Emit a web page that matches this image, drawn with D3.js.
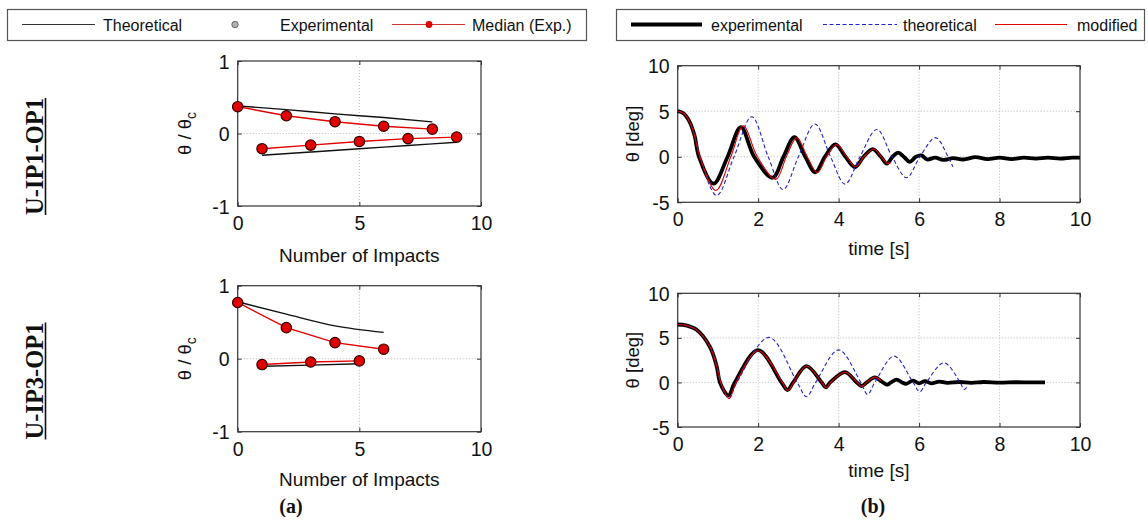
<!DOCTYPE html>
<html>
<head>
<meta charset="utf-8">
<script src="https://cdn.jsdelivr.net/npm/d3@7"></script>
<style>
  body { margin: 0; background: #fff; }
  svg { display: block; }
  text { font-family: "Liberation Sans", Arial, Helvetica, sans-serif; fill: #111; }
</style>
</head>
<body>
<svg id="fig" width="1148" height="524"></svg>
<script>
// ---------- Panel (a): normalised rotation amplitude per impact ----------
const impactTicks = [0, 5, 10];
const ratioTicks = [-1, 0, 1];

// U-IP1-OP1
const ip1UpperImpacts = [0, 2, 4, 6, 8];
const ip1UpperMedian  = [0.37, 0.245, 0.163, 0.10, 0.06];
const ip1UpperTheory  = [0.38, 0.33, 0.27, 0.22, 0.16];
const ip1LowerImpacts = [1, 3, 5, 7, 9];
const ip1LowerMedian  = [-0.21, -0.16, -0.11, -0.07, -0.05];
const ip1LowerTheory  = [-0.30, -0.255, -0.21, -0.165, -0.12];

// U-IP3-OP1
const ip3UpperImpacts = [0, 2, 4, 6];
const ip3UpperMedian  = [0.77, 0.425, 0.22, 0.13];
const ip3UpperTheory  = [0.78, 0.61, 0.45, 0.36];
const ip3LowerImpacts = [1, 3, 5];
const ip3LowerMedian  = [-0.08, -0.045, -0.03];
const ip3LowerTheory  = [-0.105, -0.088, -0.07];

// ---------- Panel (b): rotation time histories ----------
const timeTicks = [0, 2, 4, 6, 8, 10];
const angleTicks = [-5, 0, 5, 10];

// U-IP1-OP1
const ip1ExpTime = [0, 0.15, 0.3, 0.42, 0.53, 0.89, 1.24, 1.57, 1.9, 2.36, 2.63, 2.9, 3.17, 3.42, 3.66, 3.92, 4.17, 4.41, 4.62, 4.85, 5.05, 5.2, 5.34, 5.48, 5.62, 5.77, 5.92, 6.06, 6.2, 6.4, 6.6, 6.85, 7.1, 7.4, 7.7, 8.0, 8.3, 8.6, 8.9, 9.2, 9.5, 9.8, 10];
const ip1ExpDeg  = [5.0, 4.75, 3.8, 2.3, 0, -2.95, 0, 3.25, 0, -2.3, 0, 2.15, 0, -1.7, 0, 1.35, 0, -1.15, 0, 0.85, 0, -0.75, 0, 0.45, 0, -0.55, 0, 0.15, -0.3, -0.1, -0.35, -0.15, -0.3, -0.05, -0.25, -0.1, -0.25, -0.1, -0.2, -0.1, -0.2, -0.1, -0.1];
const ip1TheoTime = [0, 0.15, 0.3, 0.42, 0.55, 0.97, 1.4, 1.84, 2.25, 2.62, 3.0, 3.41, 3.8, 4.16, 4.53, 4.95, 5.33, 5.69, 6.02, 6.41, 6.72, 6.84];
const ip1TheoDeg  = [5.0, 4.75, 3.8, 2.3, 0, -4.25, 0, 4.4, 0, -3.6, 0, 3.6, 0, -3.0, 0, 3.0, 0, -2.3, 0, 2.1, 0, -1.1];
const ip1ModTime = [0, 0.15, 0.3, 0.42, 0.55, 0.95, 1.32, 1.63, 1.98, 2.44, 2.7, 2.96, 3.22, 3.47, 3.7, 3.95, 4.2, 4.42, 4.63, 4.87, 5.06, 5.22, 5.3];
const ip1ModDeg  = [5.0, 4.75, 3.8, 2.3, 0, -3.7, 0, 3.4, 0, -2.5, 0, 2.1, 0, -1.75, 0, 1.35, 0, -1.1, 0, 0.85, 0, -0.75, -0.6];

// U-IP3-OP1
const ip3ExpTime = [0, 0.2, 0.47, 0.8, 0.97, 1.05, 1.26, 1.42, 2.0, 2.58, 2.73, 2.87, 3.2, 3.58, 3.68, 3.79, 4.16, 4.45, 4.57, 4.7, 4.9, 5.1, 5.21, 5.3, 5.44, 5.58, 5.68, 5.85, 6.0, 6.15, 6.3, 6.5, 6.7, 7.0, 7.3, 7.6, 8.0, 8.4, 8.8, 9.13];
const ip3ExpDeg  = [6.5, 6.4, 5.9, 4.0, 1.8, 0, -1.45, 0, 3.63, 0, -0.85, 0, 1.83, 0, -0.55, 0, 1.16, 0, -0.4, 0, 0.56, 0, -0.25, 0, 0.32, 0, -0.15, 0.2, -0.1, 0.15, -0.1, 0.1, -0.05, 0.05, -0.05, 0.05, -0.02, 0.02, 0, 0];
const ip3TheoTime = [0, 0.2, 0.47, 0.8, 0.97, 1.07, 1.27, 1.47, 2.27, 2.97, 3.2, 3.43, 4.0, 4.55, 4.72, 4.9, 5.38, 5.85, 6.02, 6.18, 6.62, 7.02, 7.12, 7.22];
const ip3TheoDeg  = [6.5, 6.4, 5.9, 4.0, 1.8, 0, -1.8, 0, 5.05, 0, -1.6, 0, 3.65, 0, -1.35, 0, 2.95, 0, -1.05, 0, 2.2, 0, -0.8, -0.3];
const ip3ModTime = [0, 0.2, 0.47, 0.8, 0.97, 1.07, 1.28, 1.45, 2.0, 2.6, 2.73, 2.88, 3.2, 3.58, 3.7, 3.8, 4.16, 4.46, 4.58, 4.7, 4.9, 5.05];
const ip3ModDeg  = [6.5, 6.4, 5.9, 4.0, 1.8, 0, -1.8, 0, 3.55, 0, -0.9, 0, 1.85, 0, -0.6, 0, 1.15, 0, -0.45, 0, 0.6, 0.2];

const RED = "#e00000";
const BLUE = "#2222cc";
const tickFmt = d => String(d);   // plain hyphen for negatives

const svg = d3.select("#fig");

// ---------- shared axes frame (boxed, inward ticks, dotted grid) ----------
function frame(g, x, y, xt, yt) {
  const [x0, x1] = x.range();
  const [y0, y1] = y.range();   // y0 bottom, y1 top

  // dotted grid at interior ticks
  g.append("g").selectAll("line").data(xt.filter(v => x(v) > x0 + 1 && x(v) < x1 - 1)).join("line")
    .attr("x1", d => x(d)).attr("x2", d => x(d)).attr("y1", y1).attr("y2", y0)
    .attr("stroke", "#b8b8b8").attr("stroke-width", 1).attr("stroke-dasharray", "1,2");
  g.append("g").selectAll("line").data(yt.filter(v => y(v) < y0 - 1 && y(v) > y1 + 1)).join("line")
    .attr("y1", d => y(d)).attr("y2", d => y(d)).attr("x1", x0).attr("x2", x1)
    .attr("stroke", "#b8b8b8").attr("stroke-width", 1).attr("stroke-dasharray", "1,2");

  const bottom = g.append("g").attr("transform", `translate(0,${y0})`)
    .call(d3.axisBottom(x).tickValues(xt).tickFormat(tickFmt).tickSize(-4).tickPadding(10));
  const left = g.append("g").attr("transform", `translate(${x0},0)`)
    .call(d3.axisLeft(y).tickValues(yt).tickFormat(tickFmt).tickSize(-4).tickPadding(8));
  g.append("g").attr("transform", `translate(0,${y1})`)
    .call(d3.axisTop(x).tickValues(xt).tickFormat("").tickSize(-4));
  g.append("g").attr("transform", `translate(${x1},0)`)
    .call(d3.axisRight(y).tickValues(yt).tickFormat("").tickSize(-4));

  g.selectAll(".domain").remove();
  g.selectAll(".tick line").attr("stroke", "#333");
  g.selectAll(".tick text").attr("font-size", 19.5).attr("fill", "#111")
    .attr("font-family", "'Liberation Sans', Arial, sans-serif");
  bottom.selectAll(".tick text").attr("dy", "0.71em");
  left.selectAll(".tick text").attr("dy", "0.36em");

  g.append("rect").attr("x", x0).attr("y", y1).attr("width", x1 - x0).attr("height", y0 - y1)
    .attr("fill", "none").attr("stroke", "#333").attr("stroke-width", 1.2);
}

// ---------- panel (a) plots ----------
function impactPlot(top, bottom, data, xLabelY) {
  const x = d3.scaleLinear().domain([0, 10]).range([237.7, 481]);
  const y = d3.scaleLinear().domain([-1, 1]).range([bottom, top]);
  const g = svg.append("g");
  frame(g, x, y, impactTicks, ratioTicks);

  const line = d3.line().x(d => x(d[0])).y(d => y(d[1]));
  const smooth = d3.line().x(d => x(d[0])).y(d => y(d[1])).curve(d3.curveMonotoneX);
  const pairs = (xs, ys) => xs.map((v, i) => [v, ys[i]]);

  data.theory.forEach(([xs, ys]) => {
    g.append("path").attr("d", smooth(pairs(xs, ys)))
      .attr("fill", "none").attr("stroke", "#111").attr("stroke-width", 1.4);
  });
  data.median.forEach(([xs, ys]) => {
    const p = pairs(xs, ys);
    g.append("path").attr("d", line(p))
      .attr("fill", "none").attr("stroke", RED).attr("stroke-width", 1.4);
    g.append("g").selectAll("circle").data(p).join("circle")
      .attr("cx", d => x(d[0])).attr("cy", d => y(d[1])).attr("r", 5.2)
      .attr("fill", RED).attr("stroke", "#3a0000").attr("stroke-width", 1.2);
  });

  svg.append("text").attr("x", x(5)).attr("y", xLabelY).attr("text-anchor", "middle")
    .attr("font-size", 19).text("Number of Impacts");

  const cy = (top + bottom) / 2;
  const yl = svg.append("text").attr("transform", `translate(191,${cy}) rotate(-90)`)
    .attr("text-anchor", "middle").attr("font-size", 18.5);
  yl.append("tspan").text("θ / θ");
  yl.append("tspan").attr("font-size", 14).attr("dy", 5).text("c");
}

impactPlot(61, 206, {
  theory: [[ip1UpperImpacts, ip1UpperTheory], [ip1LowerImpacts, ip1LowerTheory]],
  median: [[ip1UpperImpacts, ip1UpperMedian], [ip1LowerImpacts, ip1LowerMedian]]
}, 262);

impactPlot(285.7, 431.7, {
  theory: [[ip3UpperImpacts, ip3UpperTheory], [ip3LowerImpacts, ip3LowerTheory]],
  median: [[ip3UpperImpacts, ip3UpperMedian], [ip3LowerImpacts, ip3LowerMedian]]
}, 486);

// ---------- panel (b) plots ----------
function historyPlot(top, bottom, series, xLabelY) {
  const x = d3.scaleLinear().domain([0, 10]).range([677.7, 1080]);
  const y = d3.scaleLinear().domain([-5, 10]).range([bottom, top]);
  const g = svg.append("g");
  frame(g, x, y, timeTicks, angleTicks);

  const line = d3.line().x(d => x(d[0])).y(d => y(d[1])).curve(d3.curveCatmullRom.alpha(0.5));
  const pairs = (xs, ys) => xs.map((v, i) => [v, ys[i]]);

  g.append("path").attr("d", line(pairs(series.exp[0], series.exp[1])))
    .attr("fill", "none").attr("stroke", "#000").attr("stroke-width", 3.8).attr("stroke-linejoin", "round");
  g.append("path").attr("d", line(pairs(series.theo[0], series.theo[1])))
    .attr("fill", "none").attr("stroke", BLUE).attr("stroke-width", 1.1).attr("stroke-dasharray", "4,2.5");
  g.append("path").attr("d", line(pairs(series.mod[0], series.mod[1])))
    .attr("fill", "none").attr("stroke", RED).attr("stroke-width", 1.1);

  svg.append("text").attr("x", x(5)).attr("y", xLabelY).attr("text-anchor", "middle")
    .attr("font-size", 19).text("time [s]");
  svg.append("text").attr("transform", `translate(639,${(top + bottom) / 2}) rotate(-90)`)
    .attr("text-anchor", "middle").attr("font-size", 18.5).text("θ [deg]");
}

historyPlot(65.7, 202.3, {
  exp: [ip1ExpTime, ip1ExpDeg], theo: [ip1TheoTime, ip1TheoDeg], mod: [ip1ModTime, ip1ModDeg]
}, 255);

historyPlot(293.3, 427, {
  exp: [ip3ExpTime, ip3ExpDeg], theo: [ip3TheoTime, ip3TheoDeg], mod: [ip3ModTime, ip3ModDeg]
}, 477);

// ---------- legends ----------
const legA = svg.append("g");
legA.append("rect").attr("x", 7.5).attr("y", 9.5).attr("width", 579).attr("height", 31)
  .attr("fill", "#fff").attr("stroke", "#555").attr("stroke-width", 1.2);
legA.append("line").attr("x1", 22).attr("x2", 95).attr("y1", 24.5).attr("y2", 24.5)
  .attr("stroke", "#333").attr("stroke-width", 1.2);
legA.append("text").attr("x", 103).attr("y", 30.5).attr("font-size", 16).text("Theoretical");
legA.append("circle").attr("cx", 235).attr("cy", 24.5).attr("r", 3.2)
  .attr("fill", "#b0b0b0").attr("stroke", "#666").attr("stroke-width", 1);
legA.append("text").attr("x", 280).attr("y", 30.5).attr("font-size", 16).text("Experimental");
legA.append("line").attr("x1", 392).attr("x2", 465).attr("y1", 24.5).attr("y2", 24.5)
  .attr("stroke", "#cc3333").attr("stroke-width", 1.2);
legA.append("circle").attr("cx", 429).attr("cy", 24.5).attr("r", 3.4).attr("fill", RED);
legA.append("text").attr("x", 472).attr("y", 30.5).attr("font-size", 16).text("Median (Exp.)");

const legB = svg.append("g");
legB.append("rect").attr("x", 616.5).attr("y", 9.5).attr("width", 528).attr("height", 31)
  .attr("fill", "#fff").attr("stroke", "#555").attr("stroke-width", 1.2);
legB.append("line").attr("x1", 631).attr("x2", 702).attr("y1", 24.5).attr("y2", 24.5)
  .attr("stroke", "#000").attr("stroke-width", 4);
legB.append("text").attr("x", 711).attr("y", 30.5).attr("font-size", 16).text("experimental");
legB.append("line").attr("x1", 823).attr("x2", 897).attr("y1", 24.5).attr("y2", 24.5)
  .attr("stroke", BLUE).attr("stroke-width", 1.1).attr("stroke-dasharray", "4,2.5");
legB.append("text").attr("x", 903).attr("y", 30.5).attr("font-size", 16).text("theoretical");
legB.append("line").attr("x1", 995).attr("x2", 1067).attr("y1", 24.5).attr("y2", 24.5)
  .attr("stroke", RED).attr("stroke-width", 1.1);
legB.append("text").attr("x", 1077).attr("y", 30.5).attr("font-size", 16).text("modified");

// ---------- row and panel captions ----------
const rows = [["U-IP1-OP1", 156.5], ["U-IP3-OP1", 381]];
rows.forEach(([label, cy]) => {
  svg.append("text").attr("transform", `translate(43,${cy}) rotate(-90)`)
    .attr("text-anchor", "middle").attr("font-size", 25).attr("font-weight", "bold")
    .attr("textLength", 117).attr("lengthAdjust", "spacingAndGlyphs")
    .style("font-family", "'Liberation Serif', 'Times New Roman', serif")
    .text(label);
  svg.append("line").attr("x1", 45.5).attr("x2", 45.5).attr("y1", cy - 58.5).attr("y2", cy + 58.5)
    .attr("stroke", "#111").attr("stroke-width", 1.6);
});

[["(a)", 291], ["(b)", 873]].forEach(([label, cx]) => {
  svg.append("text").attr("x", cx).attr("y", 513).attr("text-anchor", "middle")
    .attr("font-size", 20).attr("font-weight", "bold")
    .style("font-family", "'Liberation Serif', 'Times New Roman', serif")
    .text(label);
});
</script>
</body>
</html>
